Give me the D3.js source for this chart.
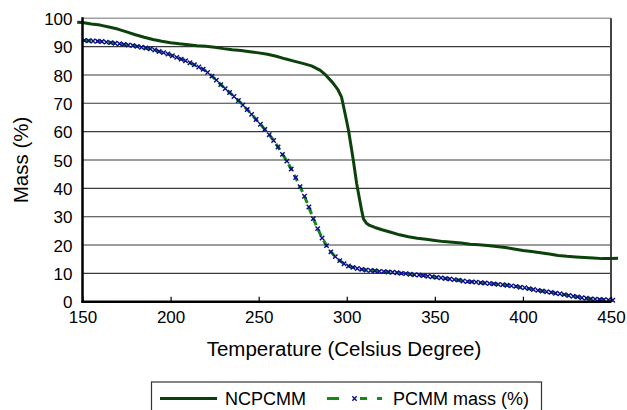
<!DOCTYPE html>
<html>
<head>
<meta charset="utf-8">
<script src="https://cdn.jsdelivr.net/npm/d3@7"></script>
<style>
  body { margin: 0; background: #ffffff; }
  svg { display: block; font-family: "Liberation Sans", Arial, sans-serif; }
</style>
</head>
<body>
<script>
// Data

// axis ticks
var xTicks = [150, 200, 250, 300, 350, 400, 450];
var yTicks = [0, 10, 20, 30, 40, 50, 60, 70, 80, 90, 100];

// NCPCMM (solid dark green)
var ncTemp = [147, 150, 155, 160, 165, 170, 175, 180, 185, 190, 195, 200, 205, 210, 215, 220,
  225, 230, 235, 240, 245, 250, 255, 260, 265, 270, 275, 280, 285, 288, 292, 295, 297, 299,
  301, 302.8, 303.7, 305.6, 307, 308.4, 309.5, 311, 313, 316, 320, 325, 330, 335, 340, 345,
  350, 355, 360, 365, 370, 375, 380, 385, 390, 395, 400, 405, 410, 415, 420, 425, 430, 435,
  440, 445, 450, 454];
var ncMass = [98.6, 98.5, 98.0, 97.6, 96.9, 96.2, 95.2, 94.2, 93.3, 92.5, 91.9, 91.4, 91.0, 90.7, 90.3, 90.1,
  89.8, 89.3, 88.9, 88.6, 88.2, 87.8, 87.3, 86.6, 85.7, 84.9, 84.1, 83.2, 81.6, 80.0, 77.3, 74.8, 72.3, 66.5,
  60.5, 53.5, 50.0, 41.8, 37.0, 32.4, 29.2, 27.8, 26.9, 26.2, 25.4, 24.5, 23.6, 22.9, 22.4, 22.0,
  21.6, 21.2, 21.0, 20.7, 20.3, 20.1, 19.8, 19.5, 19.1, 18.6, 18.1, 17.7, 17.3, 16.8, 16.3, 16.0, 15.8, 15.6,
  15.4, 15.2, 15.2, 15.3];

// PCMM mass (%) (green dashes with blue x markers)
var pcTemp = [151, 153.5, 156, 158.5, 161, 163.5, 166, 168.5, 171, 173.5, 176, 178.5, 181, 183.5, 186, 188.5,
  191, 193.5, 196, 198.5, 201, 203.5, 206, 208.5, 211, 213.5, 216, 218.5, 221, 223.5, 226, 228.5,
  231, 233.5, 236, 238.5, 241, 243.5, 246, 248.5, 251, 253.5, 256, 258.5, 261, 263.5, 266, 268.5,
  271, 273.5, 276, 278.5, 281, 283.5, 286, 288.5, 291, 293.5, 296, 298.5, 301, 303.5, 306, 308.5,
  311, 313.5, 316, 318.5, 321, 323.5, 326, 328.5, 331, 333.5, 336, 338.5, 341, 343.5, 346, 348.5,
  351, 353.5, 356, 358.5, 361, 363.5, 366, 368.5, 371, 373.5, 376, 378.5, 381, 383.5, 386, 388.5,
  391, 393.5, 396, 398.5, 401, 403.5, 406, 408.5, 411, 413.5, 416, 418.5, 421, 423.5, 426, 428.5,
  431, 433.5, 436, 438.5, 441, 443.5, 446, 448.5, 451];
var pcMass = [92.2, 92.1, 92.0, 91.9, 91.8, 91.6, 91.4, 91.2, 91.0, 90.8, 90.6, 90.4, 90.1, 89.8, 89.5, 89.2,
  88.8, 88.3, 87.9, 87.4, 86.8, 86.2, 85.6, 85.0, 84.3, 83.6, 82.8, 82.0, 80.9, 79.6, 78.2, 76.6,
  75.2, 73.8, 72.4, 71.0, 69.4, 67.8, 66.1, 64.3, 62.6, 60.8, 58.9, 56.9, 54.6, 52.0, 49.6, 46.8,
  43.8, 40.6, 37.2, 33.4, 29.3, 25.8, 22.5, 19.8, 17.6, 15.9, 14.5, 13.4, 12.6, 12.1, 11.7, 11.4,
  11.2, 11.0, 10.9, 10.7, 10.6, 10.5, 10.4, 10.2, 10.0, 9.9, 9.7, 9.5, 9.4, 9.2, 9.0, 8.8,
  8.6, 8.4, 8.2, 8.0, 7.8, 7.6, 7.3, 7.1, 7.0, 6.9, 6.7, 6.6, 6.4, 6.3, 6.1, 6.0,
  5.8, 5.6, 5.4, 5.1, 4.9, 4.6, 4.3, 4.0, 3.8, 3.5, 3.3, 3.0, 2.8, 2.5, 2.2, 1.9,
  1.7, 1.4, 1.2, 1.0, 0.9, 0.8, 0.7, 0.6, 0.5];

var seriesNames = ["NCPCMM", "PCMM mass (%)"];

// styles
var ncColor = "#0b420b";
var pcColor = "#138a13";
var markColor = "#0a0a8c";
var pcDash = "7,5";
var labelFont = "'Liberation Sans', Arial, sans-serif";

var width = 627;
var height = 410;
// plot box (note: "top" is taken by window.top)
var plotLeft = 82.5, plotRight = 611, plotTop = 18.3, plotBottom = 301.7;

var svg = d3.select("body")
    .append("svg")
    .attr("width", width)
    .attr("height", height);

var x = d3.scaleLinear().domain([150, 450]).range([plotLeft, plotRight]);
var y = d3.scaleLinear().domain([0, 100]).range([plotBottom, plotTop]);

function drawGrid() {
	svg.append("g").selectAll("line")
		.data(yTicks.filter(function(d) { return d > 0 && d < 100; }))
		.enter().append("line")
		.attr("x1", plotLeft).attr("x2", plotRight)
		.attr("y1", function(d) { return y(d); })
		.attr("y2", function(d) { return y(d); })
		.attr("stroke", "#3a3a3a")
		.attr("stroke-width", 1.1);

	// top + right frame
	svg.append("line")
		.attr("x1", plotLeft).attr("x2", plotRight)
		.attr("y1", y(100)).attr("y2", y(100))
		.attr("stroke", "#a0a0a0").attr("stroke-width", 1.6);
	svg.append("line")
		.attr("x1", plotRight).attr("x2", plotRight)
		.attr("y1", y(100)).attr("y2", y(0))
		.attr("stroke", "#444").attr("stroke-width", 2);
}

function drawAxes() {
	var xAxis = d3.axisBottom(x)
		.tickValues(xTicks)
		.tickSizeInner(-5)
		.tickSizeOuter(0)
		.tickPadding(9);
	var gx = svg.append("g")
		.attr("transform", "translate(0," + plotBottom + ")")
		.call(xAxis);
	// axis() puts its own font-size on the group, so set ours after
	gx.attr("font-size", 17).attr("font-family", labelFont);
	gx.select(".domain").remove();
	gx.selectAll("line").attr("stroke", "#000").attr("stroke-width", 1.2);
	gx.selectAll("text").attr("fill", "#000");

	var yAxis = d3.axisLeft(y)
		.tickValues(yTicks)
		.tickSize(0)
		.tickPadding(10);
	var gy = svg.append("g")
		.attr("transform", "translate(" + plotLeft + ",0)")
		.call(yAxis);
	gy.attr("font-size", 17).attr("font-family", labelFont);
	gy.select(".domain").remove();
	gy.selectAll("text")
		.attr("fill", "#000")
		.attr("dy", "0.36em");

	// axis lines
	svg.append("line")
		.attr("x1", plotLeft).attr("x2", plotLeft)
		.attr("y1", plotTop - 1).attr("y2", plotBottom + 1)
		.attr("stroke", "#000").attr("stroke-width", 2.5);
	svg.append("line")
		.attr("x1", plotLeft - 1).attr("x2", plotRight)
		.attr("y1", plotBottom).attr("y2", plotBottom)
		.attr("stroke", "#000").attr("stroke-width", 2.5);

	svg.append("text")
		.attr("x", 344).attr("y", 356)
		.attr("text-anchor", "middle")
		.style("font-size", "20.5px")
		.text("Temperature (Celsius Degree)");

	svg.append("text")
		.attr("transform", "translate(28," + ((plotTop + plotBottom) / 2) + ") rotate(-90)")
		.attr("text-anchor", "middle")
		.style("font-size", "20.5px")
		.text("Mass (%)");
}

function drawMarker(g, cx, cy) {
	var s = 2.2;
	g.append("path")
		.attr("d", "M" + (cx - s) + "," + (cy - s) + "L" + (cx + s) + "," + (cy + s) +
			"M" + (cx - s) + "," + (cy + s) + "L" + (cx + s) + "," + (cy - s))
		.attr("stroke", markColor)
		.attr("stroke-width", 1.4)
		.attr("fill", "none");
}

function drawSeries() {
	var line = d3.line()
		.x(function(d) { return x(d[0]); })
		.y(function(d) { return y(d[1]); });

	var pcData = d3.zip(pcTemp, pcMass);
	var ncData = d3.zip(ncTemp, ncMass);

	svg.append("path")
		.datum(pcData)
		.attr("fill", "none")
		.attr("stroke", pcColor)
		.attr("stroke-width", 3)
		.attr("stroke-dasharray", pcDash)
		.attr("d", line);

	var mg = svg.append("g");
	pcData.forEach(function(d) { drawMarker(mg, x(d[0]), y(d[1])); });

	svg.append("path")
		.datum(ncData)
		.attr("fill", "none")
		.attr("stroke", ncColor)
		.attr("stroke-width", 3)
		.attr("stroke-linejoin", "round")
		.attr("d", line);
}

function drawLegend() {
	var lg = svg.append("g");
	lg.append("rect")
		.attr("x", 151.5).attr("y", 382)
		.attr("width", 390).attr("height", 40)
		.attr("fill", "#fff")
		.attr("stroke", "#333")
		.attr("stroke-width", 1.2);

	lg.append("line")
		.attr("x1", 160).attr("x2", 217)
		.attr("y1", 398.5).attr("y2", 398.5)
		.attr("stroke", ncColor).attr("stroke-width", 3);
	lg.append("text")
		.attr("x", 225).attr("y", 404.5)
		.style("font-size", "18px")
		.text(seriesNames[0]);

	lg.append("line")
		.attr("x1", 327).attr("x2", 382)
		.attr("y1", 398.5).attr("y2", 398.5)
		.attr("stroke", pcColor).attr("stroke-width", 3)
		.attr("stroke-dasharray", "12,21,7,10,5");
	drawMarker(lg, 354.5, 398.5);
	lg.append("text")
		.attr("x", 393).attr("y", 404.5)
		.style("font-size", "18px")
		.text(seriesNames[1]);
}

drawGrid();
drawSeries();
drawAxes();
drawLegend();
</script>
</body>
</html>
